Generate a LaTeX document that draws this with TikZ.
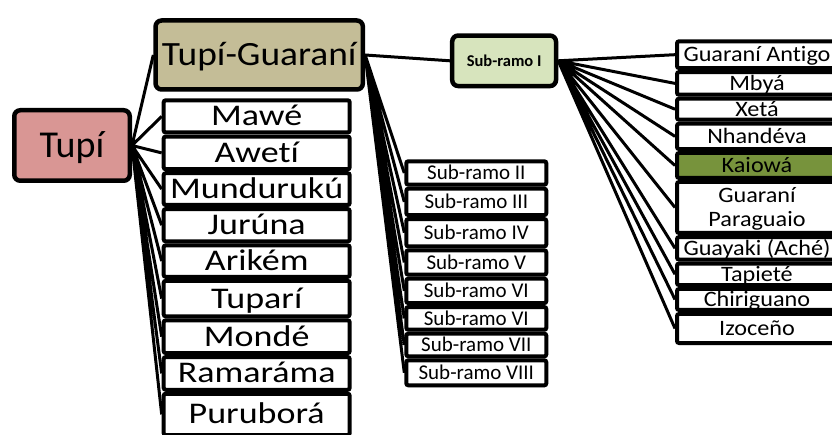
\documentclass[tikz,border=0pt]{standalone}
\usepackage{fontspec}
\setmainfont{Carlito}[Ligatures={NoCommon,NoRare}]
\newfontfamily\widefont[FakeStretch=1.2,Ligatures={NoCommon,NoRare}]{Carlito}
\newfontfamily\semiwidefont[FakeStretch=1.1,Ligatures={NoCommon,NoRare}]{Carlito}
\usetikzlibrary{shadows}
\definecolor{tupired}{HTML}{D99694}
\definecolor{tgtan}{HTML}{C4BD97}
\definecolor{srgreen}{HTML}{D7E4BD}
\definecolor{kaiolive}{HTML}{77933C}
\tikzset{
    boxshadow/.style = {drop shadow={opacity=0.25,shadow xshift=1pt,shadow yshift=-2pt}},
    bigbox/.style = {rectangle, rounded corners=6pt, line width=4.5pt, draw=black, inner sep=0pt, align=center, boxshadow},
    langcell/.style = {rectangle, rounded corners=2pt, line width=4pt, draw=black, fill=white, inner sep=0pt, boxshadow,
        minimum width=186pt, font=\widefont\fontsize{30}{32}\selectfont, text height=23pt, text depth=4pt},
    subcell/.style = {rectangle, rounded corners=2pt, line width=4pt, draw=black, fill=white, inner sep=0pt, boxshadow,
        minimum width=140pt, font=\fontsize{21}{23}\selectfont, text height=16pt, text depth=2pt},
    guacell/.style = {rectangle, rounded corners=2pt, line width=4pt, draw=black, fill=white, inner sep=0pt, boxshadow,
        minimum width=160pt, align=center, font=\semiwidefont\fontsize{22}{24.5}\selectfont, text height=17pt, text depth=2.5pt},
    edgen/.style = {line width=3pt, draw=black},
}

\begin{document}
\begin{tikzpicture}[x=1pt,y=-1pt]
  \useasboundingbox (0,0) rectangle (832,435);

  % top level
  \node[bigbox, fill=tupired, minimum width=115.5pt, minimum height=70.5pt,
        font=\fontsize{38}{40}\selectfont, text height=28pt, text depth=3.5pt] (tupi) at (72,145.5) {Tupí};
  \node[bigbox, fill=tgtan, minimum width=207.3pt, minimum height=69pt,
        font=\semiwidefont\fontsize{34}{36}\selectfont, text height=25pt, text depth=3pt] (tupiguarani) at (259.2,55) {Tupí-Guaraní};
  \node[bigbox, fill=srgreen, minimum width=103.8pt, minimum height=50.5pt,
        font=\bfseries\fontsize{16.5}{18}\selectfont, text height=12.5pt, text depth=2pt] (sr1) at (504.1,60.8) {Sub-ramo I};

  % other branches of Tupi
  \node[langcell, minimum height=32.2pt] (mawe) at (256.7,116.4) {Mawé};
  \node[langcell, minimum height=32.7pt] (aweti) at (256.7,152.9) {Awetí};
  \node[langcell, minimum height=31.8pt] (munduruku) at (256.7,189.1) {Mundurukú};
  \node[langcell, minimum height=32.3pt] (juruna) at (256.7,225.2) {Jurúna};
  \node[langcell, minimum height=31.5pt] (arikem) at (256.7,261.1) {Arikém};
  \node[langcell, minimum height=35.5pt] (tupari) at (256.7,298.6) {Tuparí};
  \node[langcell, minimum height=32.7pt] (monde) at (256.7,336.7) {Mondé};
  \node[langcell, minimum height=32.7pt] (ramarama) at (256.7,373.4) {Ramaráma};
  \node[langcell, minimum height=41.3pt] (purubora) at (256.7,414.4) {Puruborá};

  % sub-ramos II-VIII
  \node[subcell, minimum height=23.4pt] (sr2) at (476.3,173) {Sub-ramo II};
  \node[subcell, minimum height=26.3pt] (sr3) at (476.3,201.9) {Sub-ramo III};
  \node[subcell, minimum height=27.3pt] (sr4) at (476.3,232.7) {Sub-ramo IV};
  \node[subcell, minimum height=24.4pt] (sr5) at (476.3,262.5) {Sub-ramo V};
  \node[subcell, minimum height=24.3pt] (sr6) at (476.3,290.9) {Sub-ramo VI};
  \node[subcell, minimum height=22.7pt] (sr6b) at (476.3,318.4) {Sub-ramo VI};
  \node[subcell, minimum height=22.6pt] (sr7) at (476.3,345) {Sub-ramo VII};
  \node[subcell, minimum height=25pt] (sr8) at (476.3,372.8) {Sub-ramo VIII};

  % languages of Sub-ramo I
  \node[guacell, minimum height=26.7pt] (antigo) at (757,54.7) {Guaraní Antigo};
  \node[guacell, minimum height=22.7pt] (mbya) at (757,83.4) {Mbyá};
  \node[guacell, minimum height=21pt] (xeta) at (757,109.2) {Xetá};
  \node[guacell, minimum height=25.3pt] (nhandeva) at (757,136.4) {Nhandéva};
  \node[guacell, minimum height=25pt, fill=kaiolive] (kaiowa) at (757,165.5) {Kaiowá};
  \node[guacell, minimum height=51pt, text height=41.5pt] (paraguaio) at (757,207.5) {Guaraní\\Paraguaio};
  \node[guacell, minimum height=22.5pt] (guayaki) at (757,248.3) {Guayaki (Aché)};
  \node[guacell, minimum height=21.5pt] (tapiete) at (757,274.3) {Tapieté};
  \node[guacell, minimum height=21pt] (chiriguano) at (757,299.5) {Chiriguano};
  \node[guacell, minimum height=29pt] (izoceno) at (757,328.5) {Izoceño};

  % connectors
  \draw[edgen] (tupi.east) -- (tupiguarani.west)
    (tupi.east) -- (mawe.west) (tupi.east) -- (aweti.west)
    (tupi.east) -- (munduruku.west) (tupi.east) -- (juruna.west)
    (tupi.east) -- (arikem.west) (tupi.east) -- (tupari.west)
    (tupi.east) -- (monde.west) (tupi.east) -- (ramarama.west)
    (tupi.east) -- (purubora.west);
  \draw[edgen] (tupiguarani.east) -- (sr1.west)
    (tupiguarani.east) -- (sr2.west) (tupiguarani.east) -- (sr3.west)
    (tupiguarani.east) -- (sr4.west) (tupiguarani.east) -- (sr5.west)
    (tupiguarani.east) -- (sr6.west) (tupiguarani.east) -- (sr6b.west)
    (tupiguarani.east) -- (sr7.west) (tupiguarani.east) -- (sr8.west);
  \draw[edgen] (sr1.east) -- (antigo.west)
    (sr1.east) -- (mbya.west) (sr1.east) -- (xeta.west)
    (sr1.east) -- (nhandeva.west) (sr1.east) -- (kaiowa.west)
    (sr1.east) -- (paraguaio.west) (sr1.east) -- (guayaki.west)
    (sr1.east) -- (tapiete.west) (sr1.east) -- (chiriguano.west)
    (sr1.east) -- (izoceno.west);
\end{tikzpicture}
\end{document}
